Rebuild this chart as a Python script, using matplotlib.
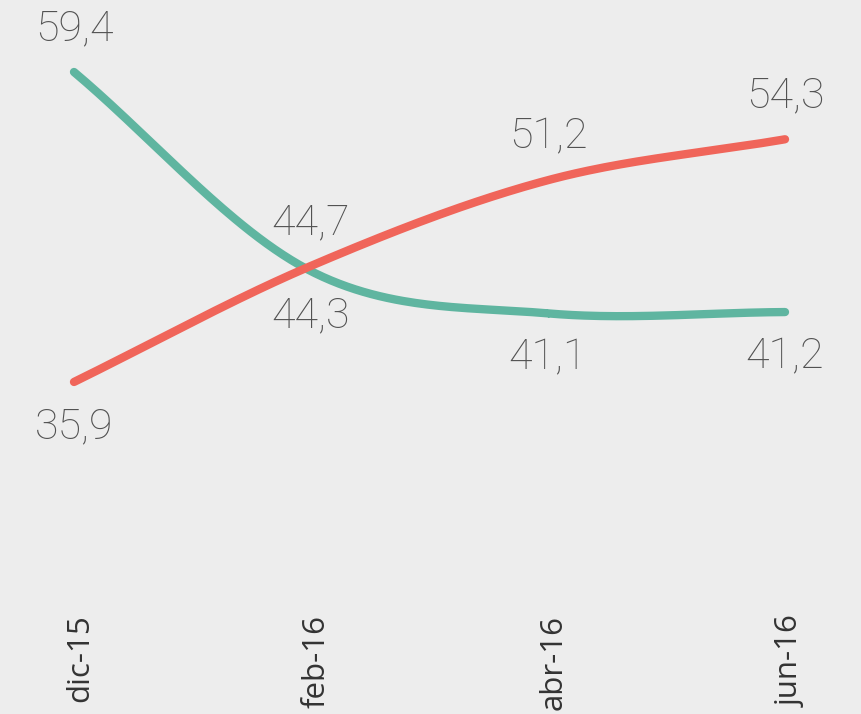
import numpy as np
import matplotlib.pyplot as plt
import matplotlib.transforms as mtransforms

months = ['dic-15', 'feb-16', 'abr-16', 'jun-16']
teal_vals = [59.4, 44.3, 41.1, 41.2]
red_vals = [35.9, 44.7, 51.2, 54.3]
teal_labels = ['59,4', '44,3', '41,1', '41,2']
red_labels = ['35,9', '44,7', '51,2', '54,3']

TEAL = '#5fb5a0'
RED = '#f0655a'
BG = '#ededed'
LABEL_COL = '#525252'


# catmull-rom smoothing (excel "smoothed line"), reflected end points
def smooth(y, n=60):
    p = np.concatenate([[2 * y[0] - y[1]], y, [2 * y[-1] - y[-2]]])
    xs, ys = [], []
    for i in range(len(y) - 1):
        p0, p1, p2, p3 = p[i], p[i + 1], p[i + 2], p[i + 3]
        t = np.linspace(0, 1, n)
        yy = 0.5 * ((2 * p1) + (-p0 + p2) * t + (2 * p0 - 5 * p1 + 4 * p2 - p3) * t**2
                    + (-p0 + 3 * p1 - 3 * p2 + p3) * t**3)
        xs.append(i + t)
        ys.append(yy)
    return np.concatenate(xs), np.concatenate(ys)


fig = plt.figure(figsize=(8.61, 7.14), dpi=100, facecolor=BG)
ax = fig.add_axes([0, (714 - 605) / 714, 1, 605 / 714])
ax.set_facecolor(BG)

x = np.arange(len(months))
for vals, col in [(teal_vals, TEAL), (red_vals, RED)]:
    sx, sy = smooth(np.array(vals, float))
    ax.plot(sx, sy, color=col, lw=6, solid_capstyle='round')

# teal: first label above, rest below; red: first below, rest above
for i, (v, s) in enumerate(zip(teal_vals, teal_labels)):
    off = 31 if i == 0 else -32
    ax.annotate(s, (x[i], v), xytext=(0, off), textcoords='offset points',
                ha='center', va='center', fontsize=31, color=LABEL_COL,
                family='Roboto', fontweight='light')
for i, (v, s) in enumerate(zip(red_vals, red_labels)):
    off = -32 if i == 0 else 31
    ax.annotate(s, (x[i], v), xytext=(0, off), textcoords='offset points',
                ha='center', va='center', fontsize=31, color=LABEL_COL,
                family='Roboto', fontweight='light')

ax.set_xlim(-74 / 237, (861 - 74) / 237)
ax.set_ylim(59.4 - 533 / 13.19, 59.4 + 72 / 13.19)
ax.set_xticks(x)
ax.set_xticklabels(months, rotation=90, fontsize=22.5, color='#333333',
                   family='Open Sans', va='top')
ax.tick_params(axis='x', length=0, pad=7)
shift = mtransforms.ScaledTranslation(6 / 100, 0, fig.dpi_scale_trans)
for lab in ax.get_xticklabels():
    lab.set_transform(lab.get_transform() + shift)
ax.set_yticks([])
for sp in ax.spines.values():
    sp.set_visible(False)

fig.savefig('out.png', dpi=100, facecolor=BG)
